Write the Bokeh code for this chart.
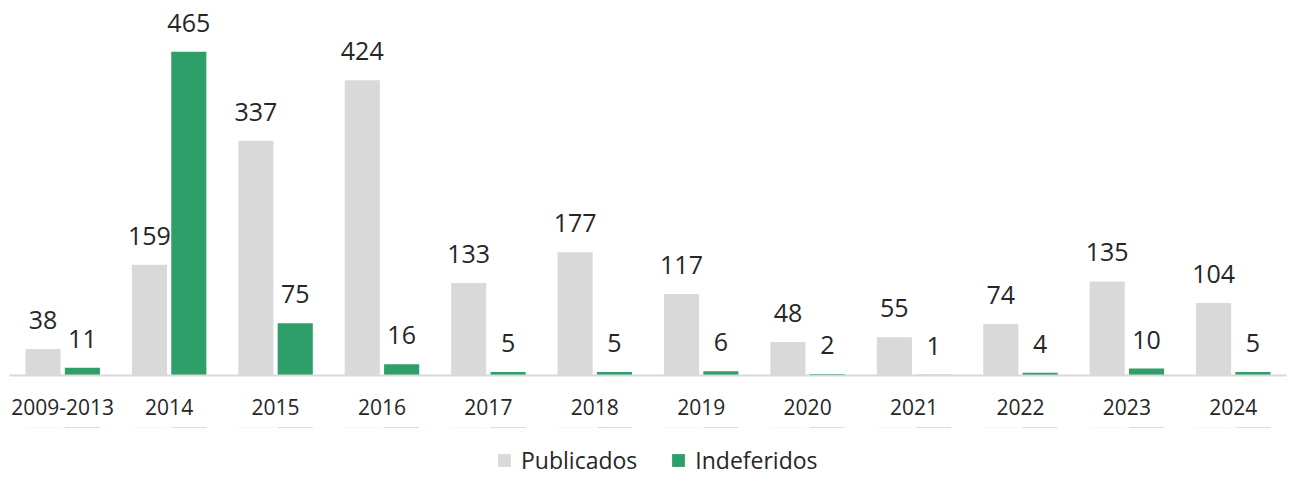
from bokeh.plotting import figure
from bokeh.models import ColumnDataSource, Range1d, Legend, LegendItem, FactorRange
from bokeh.layouts import column
from bokeh.transform import dodge
from bokeh.embed import file_html
from bokeh.resources import INLINE
from bokeh.core.properties import value

categories = ["2009-2013", "2014", "2015", "2016", "2017", "2018", "2019", "2020", "2021", "2022", "2023", "2024"]
publicados = [38, 159, 337, 424, 133, 177, 117, 48, 55, 74, 135, 104]
indeferidos = [11, 465, 75, 16, 5, 5, 6, 2, 1, 4, 10, 5]
series_names = ["Publicados", "Indeferidos"]

FONT = "Open Sans"
GREY = "#D9D9D9"
GREEN = "#2E9F69"
TXT = "#262626"

src = ColumnDataSource(dict(
    cat=categories,
    pub=publicados,
    ind=indeferidos,
    pub_lbl=[str(v) for v in publicados],
    ind_lbl=[str(v) for v in indeferidos],
))

p = figure(x_range=categories, y_range=Range1d(0, 527), width=1287, height=427,
           output_backend="svg", toolbar_location=None,
           min_border_left=9, min_border_right=1, min_border_top=8, min_border_bottom=52)

p.vbar(x=dodge("cat", -0.185, range=p.x_range), top="pub", width=0.33, source=src,
       fill_color=GREY, line_color=None)
p.vbar(x=dodge("cat", 0.185, range=p.x_range), top="ind", width=0.33, source=src,
       fill_color=GREEN, line_color=None)

p.text(x=dodge("cat", -0.185, range=p.x_range), y="pub", text="pub_lbl", source=src,
       text_align="center", text_baseline="alphabetic", y_offset=-29,
       text_font=value(FONT), text_font_size="25px", text_color=TXT)
p.text(x=dodge("cat", 0.185, range=p.x_range), y="ind", text="ind_lbl", source=src,
       text_align="center", text_baseline="alphabetic", y_offset=-29,
       text_font=value(FONT), text_font_size="25px", text_color=TXT)

p.yaxis.visible = False
p.xgrid.grid_line_color = None
p.ygrid.grid_line_color = None
p.outline_line_color = None

xa = p.xaxis[0]
xa.axis_line_color = GREY
xa.axis_line_width = 2
xa.major_tick_line_color = None
xa.minor_tick_line_color = None
xa.major_tick_out = 0
xa.major_tick_in = 0
xa.major_label_standoff = 23
xa.major_label_text_font = FONT
xa.major_label_text_font_size = "21px"
xa.major_label_text_color = TXT

# legend strip below the chart (its bars lie outside its visible y range)
lf = figure(width=1287, height=52, x_range=FactorRange(factors=categories),
            y_range=Range1d(-2, -1),
            output_backend="svg", toolbar_location=None,
            x_axis_location=None, y_axis_location=None,
            min_border_left=0, min_border_right=0, min_border_top=0, min_border_bottom=0)
lf.xgrid.grid_line_color = None
lf.ygrid.grid_line_color = None
lf.outline_line_color = None
d1 = lf.vbar(x=dodge("cat", -0.185, range=lf.x_range), top="pub", width=0.33, source=src,
             fill_color=GREY, line_color=None)
d2 = lf.vbar(x=dodge("cat", 0.185, range=lf.x_range), top="ind", width=0.33, source=src,
             fill_color=GREEN, line_color=None)

legend = Legend(items=[LegendItem(label=series_names[0], renderers=[d1]),
                       LegendItem(label=series_names[1], renderers=[d2])],
                orientation="horizontal", location=(487, 3),
                label_text_font=FONT, label_text_font_size="23px", label_text_color=TXT,
                glyph_width=16, glyph_height=16, label_standoff=9, spacing=33,
                border_line_color=None, background_fill_alpha=0, margin=0, padding=0)
lf.add_layout(legend, "center")

layout = column(p, lf, spacing=0)
open("out.html", "w").write(file_html(layout, INLINE))
